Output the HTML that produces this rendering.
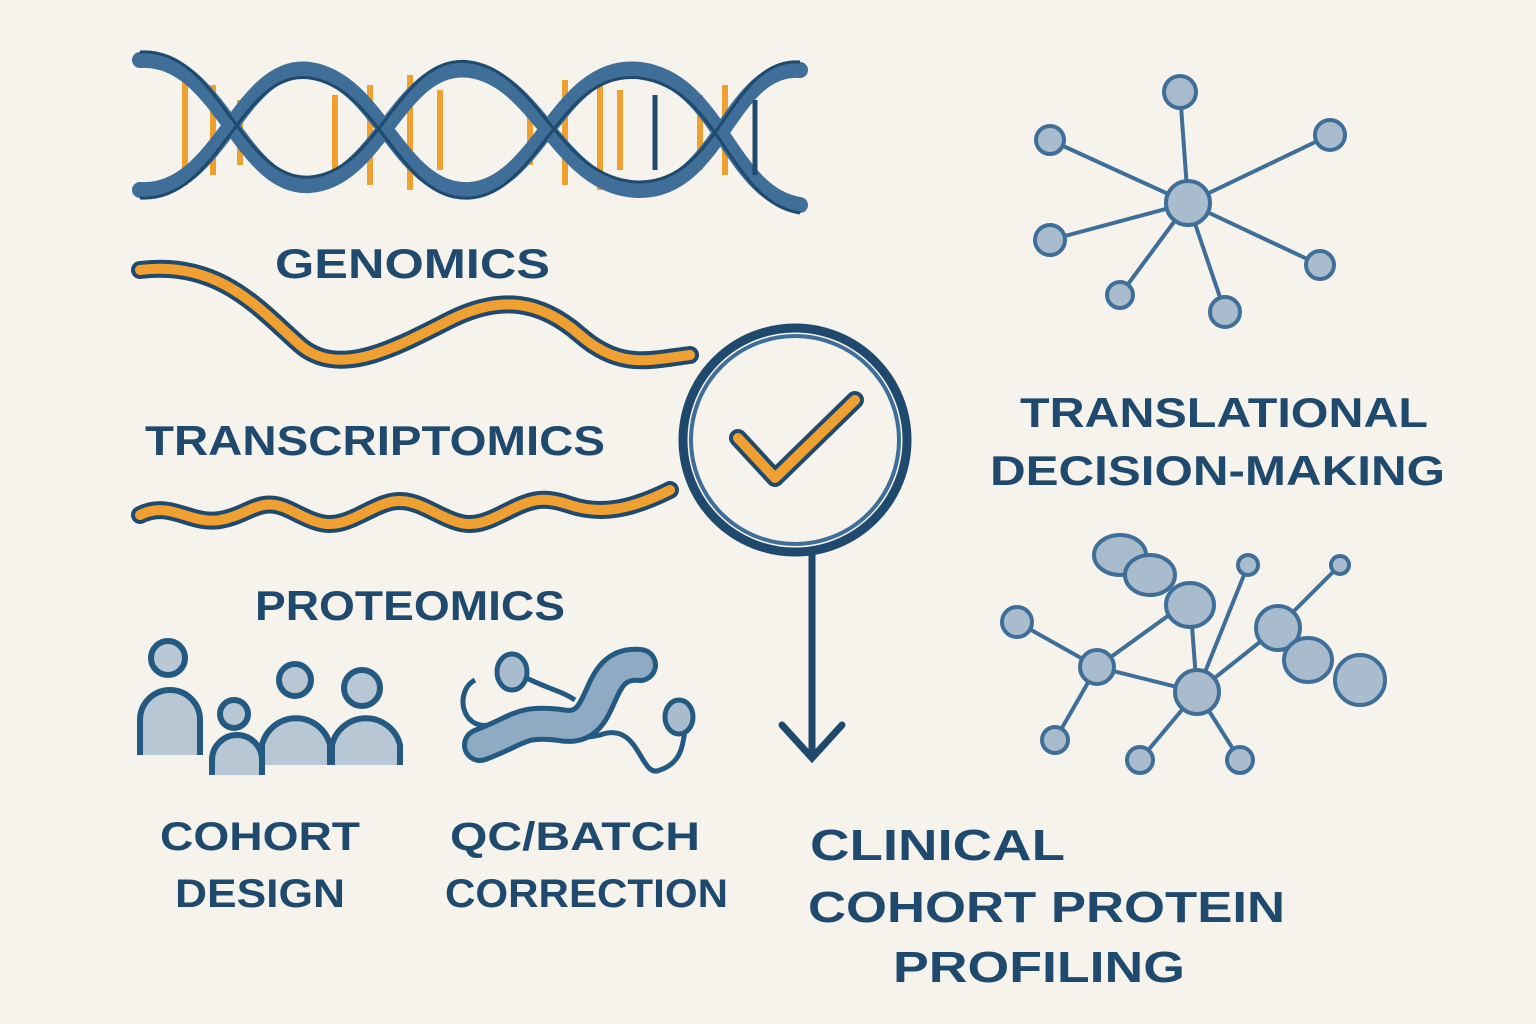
<!DOCTYPE html>
<html><head><meta charset="utf-8"><style>
html,body{margin:0;padding:0;background:#f5f3ec;}
svg{display:block}
text{font-family:"Liberation Sans",sans-serif;font-weight:bold;fill:#1f4a6e;}
</style></head><body>
<svg width="1536" height="1024" viewBox="0 0 1536 1024">
<rect width="1536" height="1024" fill="#f5f3ec"/>
<g stroke="#f0a030" stroke-width="6">
<line x1="185" y1="70" x2="185" y2="185"/><line x1="213" y1="85" x2="213" y2="175"/><line x1="240" y1="100" x2="240" y2="165"/>
<line x1="335" y1="95" x2="335" y2="170"/><line x1="370" y1="85" x2="370" y2="185"/><line x1="410" y1="75" x2="410" y2="190"/><line x1="440" y1="90" x2="440" y2="170"/>
<line x1="530" y1="100" x2="530" y2="165"/><line x1="565" y1="80" x2="565" y2="185"/><line x1="600" y1="75" x2="600" y2="190"/><line x1="620" y1="90" x2="620" y2="170"/>
<line x1="700" y1="95" x2="700" y2="170"/><line x1="725" y1="85" x2="725" y2="175"/>
</g>
<g fill="none" stroke="#3f6f98" stroke-width="16" stroke-linecap="round">
<path d="M140 60 C220 55,240 190,310 185 S400 60,470 70 S560 190,640 190 S730 65,800 70"/>
<path d="M140 190 C220 195,240 60,310 70 S400 195,470 190 S560 60,640 70 S730 195,800 205"/>
</g>
<g fill="none" stroke="#1f4a6e" stroke-width="3">
<path d="M140 52 C220 47,240 182,310 177 S400 52,470 62 S560 182,640 182 S730 57,800 62"/>
<path d="M140 198 C220 203,240 68,310 78 S400 203,470 198 S560 68,640 78 S730 203,800 213"/>
</g>
<g stroke="#1f4a6e" stroke-width="5"><line x1="755" y1="100" x2="755" y2="175"/><line x1="655" y1="95" x2="655" y2="170"/></g>
<text x="275" y="278" font-size="42" textLength="275" lengthAdjust="spacingAndGlyphs">GENOMICS</text>
<path d="M140 270 C220 260,260 310,300 345 S400 345,450 320 S540 300,580 335 S650 360,690 355" fill="none" stroke="#1f4a6e" stroke-width="18" stroke-linecap="round"/>
<path d="M140 270 C220 260,260 310,300 345 S400 345,450 320 S540 300,580 335 S650 360,690 355" fill="none" stroke="#f0a030" stroke-width="10" stroke-linecap="round"/>
<text x="145" y="455" font-size="42" textLength="460" lengthAdjust="spacingAndGlyphs">TRANSCRIPTOMICS</text>
<path d="M140 515 C170 500,190 525,220 520 S260 495,290 510 S330 530,360 515 S400 495,430 510 S470 530,500 515 S540 495,570 505 S630 510,670 490" fill="none" stroke="#1f4a6e" stroke-width="18" stroke-linecap="round"/>
<path d="M140 515 C170 500,190 525,220 520 S260 495,290 510 S330 530,360 515 S400 495,430 510 S470 530,500 515 S540 495,570 505 S630 510,670 490" fill="none" stroke="#f0a030" stroke-width="10" stroke-linecap="round"/>
<text x="255" y="620" font-size="42" textLength="310" lengthAdjust="spacingAndGlyphs">PROTEOMICS</text>
<circle cx="795" cy="440" r="112" fill="#f5f3ec" stroke="#1f4a6e" stroke-width="9"/>
<circle cx="795" cy="440" r="104" fill="none" stroke="#3f6f98" stroke-width="4"/>
<path d="M738 438 L775 478 L855 400" fill="none" stroke="#1f4a6e" stroke-width="18" stroke-linecap="round" stroke-linejoin="round"/>
<path d="M738 438 L775 478 L855 400" fill="none" stroke="#f0a030" stroke-width="10" stroke-linecap="round" stroke-linejoin="round"/>
<line x1="812" y1="552" x2="812" y2="755" stroke="#1f4a6e" stroke-width="7"/>
<path d="M782 725 L812 758 L842 725" fill="none" stroke="#1f4a6e" stroke-width="7" stroke-linecap="round"/>
<g fill="#b8c7d4" stroke="#245a82" stroke-width="6">
<path d="M140 755 L140 720 A30 30 0 0 1 200 720 L200 755"/><circle cx="168" cy="658" r="17"/>
<path d="M262 765 L262 745 A35 35 0 0 1 330 745 L330 765"/><circle cx="295" cy="680" r="16"/>
<path d="M332 765 L332 745 A35 35 0 0 1 400 745 L400 765"/><circle cx="362" cy="688" r="18"/>
<path d="M212 775 L212 760 A25 25 0 0 1 262 760 L262 775"/><circle cx="234" cy="714" r="14"/>
</g>
<g fill="none" stroke="#245a82" stroke-width="5">
<path d="M475 680 C455 690,460 730,490 725 C520 720,560 745,600 735 C640 720,640 780,660 770 C690 760,680 730,690 715"/>
<path d="M520 675 C550 690,560 690,575 700"/>
</g>
<path d="M480 745 C520 730,520 720,560 725 C610 735,590 660,640 665" fill="none" stroke="#245a82" stroke-width="36" stroke-linecap="round"/>
<path d="M480 745 C520 730,520 720,560 725 C610 735,590 660,640 665" fill="none" stroke="#8fabc3" stroke-width="26" stroke-linecap="round"/>
<g fill="#a9bccd" stroke="#245a82" stroke-width="5"><ellipse cx="512" cy="672" rx="15" ry="18"/><ellipse cx="679" cy="717" rx="14" ry="17"/></g>
<g font-size="40" lengthAdjust="spacingAndGlyphs">
<text x="160" y="850" textLength="200" lengthAdjust="spacingAndGlyphs">COHORT</text>
<text x="175" y="907" textLength="170" lengthAdjust="spacingAndGlyphs">DESIGN</text>
<text x="450" y="850" textLength="250" lengthAdjust="spacingAndGlyphs">QC/BATCH</text>
<text x="445" y="907" textLength="283" lengthAdjust="spacingAndGlyphs">CORRECTION</text>
</g>
<g font-size="44">
<text x="810" y="860" textLength="255" lengthAdjust="spacingAndGlyphs">CLINICAL</text>
<text x="808" y="922" textLength="477" lengthAdjust="spacingAndGlyphs">COHORT PROTEIN</text>
<text x="893" y="982" textLength="292" lengthAdjust="spacingAndGlyphs">PROFILING</text>
</g>
<g font-size="42">
<text x="1020" y="427" textLength="408" lengthAdjust="spacingAndGlyphs">TRANSLATIONAL</text>
<text x="990" y="485" textLength="455" lengthAdjust="spacingAndGlyphs">DECISION-MAKING</text>
</g>
<g stroke="#3f6f98" stroke-width="4">
<line x1="1188" y1="203" x2="1180" y2="92"/><line x1="1188" y1="203" x2="1330" y2="135"/><line x1="1188" y1="203" x2="1050" y2="140"/><line x1="1188" y1="203" x2="1050" y2="240"/><line x1="1188" y1="203" x2="1120" y2="295"/><line x1="1188" y1="203" x2="1225" y2="312"/><line x1="1188" y1="203" x2="1320" y2="265"/>
</g>
<g fill="#a9bccd" stroke="#3f6f98" stroke-width="4">
<circle cx="1188" cy="203" r="22"/><circle cx="1180" cy="92" r="16"/><circle cx="1330" cy="135" r="15"/><circle cx="1050" cy="140" r="14"/><circle cx="1050" cy="240" r="15"/><circle cx="1120" cy="295" r="13"/><circle cx="1225" cy="312" r="15"/><circle cx="1320" cy="265" r="14"/>
</g>
<g stroke="#3f6f98" stroke-width="4">
<line x1="1097" y1="667" x2="1017" y2="622"/><line x1="1097" y1="667" x2="1055" y2="740"/><line x1="1097" y1="667" x2="1197" y2="692"/><line x1="1097" y1="667" x2="1190" y2="600"/><line x1="1197" y1="692" x2="1140" y2="760"/><line x1="1197" y1="692" x2="1248" y2="565"/><line x1="1197" y1="692" x2="1275" y2="630"/><line x1="1197" y1="692" x2="1240" y2="760"/><line x1="1275" y1="630" x2="1340" y2="565"/><line x1="1190" y1="600" x2="1197" y2="692"/>
</g>
<g fill="#a9bccd" stroke="#3f6f98" stroke-width="4">
<ellipse cx="1120" cy="555" rx="26" ry="20"/><ellipse cx="1150" cy="575" rx="25" ry="20"/><ellipse cx="1190" cy="605" rx="24" ry="22"/>
<circle cx="1097" cy="667" r="17"/><circle cx="1017" cy="622" r="15"/><circle cx="1055" cy="740" r="13"/><circle cx="1197" cy="692" r="22"/><circle cx="1140" cy="760" r="13"/><circle cx="1248" cy="565" r="10"/><circle cx="1240" cy="760" r="13"/><circle cx="1340" cy="565" r="9"/>
<ellipse cx="1278" cy="628" rx="22" ry="22"/><ellipse cx="1308" cy="660" rx="24" ry="22"/><ellipse cx="1360" cy="680" rx="25" ry="25"/>
</g>
</svg>
</body></html>
